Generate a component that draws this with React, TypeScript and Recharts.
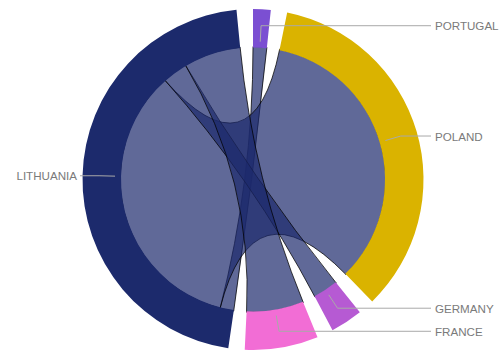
import { PieChart, Pie, Cell, Customized } from "recharts";

// nodes, clockwise from the top
const countries = ["PORTUGAL", "POLAND", "GERMANY", "FRANCE", "LITHUANIA"];
const colors = ["#7b4fd2", "#dab300", "#b65ad3", "#f26dd5", "#1c2a6c"];

// every link starts in Lithuania
const linkSource = "LITHUANIA";
const linkTargets = ["PORTUGAL", "POLAND", "GERMANY", "FRANCE"];
const linkValues = [6, 124, 11, 25];

const CX = 253;
const CY = 179.5;
const R_OUT = 170.5;
const R_IN = 132;
const R_RIB = 133; // ribbons tuck under the arcs so their stroke hides
const PAD = 5.56;
const RAD = Math.PI / 180;

const nodeData = countries.map((name) => ({
  name,
  value: linkTargets.reduce(
    (s, t, i) => s + (t === name || linkSource === name ? linkValues[i] : 0),
    0
  ),
}));

// same layout as the Pie: start at the top, clockwise, padding after each node
const total = nodeData.reduce((s, d) => s + d.value, 0);
const degPerUnit = (360 - PAD * nodeData.length) / total;
const nodeAngles: Record<string, [number, number]> = {};
let cursor = 0;
nodeData.forEach((d) => {
  nodeAngles[d.name] = [cursor, cursor + d.value * degPerUnit];
  cursor += d.value * degPerUnit + PAD;
});

const pt = (deg: number, r: number) =>
  `${CX + r * Math.sin(deg * RAD)},${CY - r * Math.cos(deg * RAD)}`;

function ribbonPath(a0: number, a1: number, b0: number, b1: number) {
  const r = R_RIB;
  return (
    `M${pt(a0, r)} A${r},${r} 0 ${a1 - a0 > 180 ? 1 : 0} 1 ${pt(a1, r)} ` +
    `Q${CX},${CY} ${pt(b0, r)} A${r},${r} 0 ${b1 - b0 > 180 ? 1 : 0} 1 ${pt(b1, r)} ` +
    `Q${CX},${CY} ${pt(a0, r)} Z`
  );
}

function Ribbons() {
  let offset = nodeAngles[linkSource][0];
  const srcColor = colors[countries.indexOf(linkSource)];
  return (
    <g>
      {linkTargets.map((t, i) => {
        const a0 = offset;
        const a1 = offset + linkValues[i] * degPerUnit;
        offset = a1;
        const [b0, b1] = nodeAngles[t];
        return (
          <path
            key={t}
            d={ribbonPath(a0, a1, b0, b1)}
            fill={srcColor}
            fillOpacity={0.7}
            stroke="#000"
            strokeOpacity={0.75}
            strokeWidth={1}
          />
        );
      })}
    </g>
  );
}

const renderLabel = (p: any) => {
  const { cx, cy, midAngle, name } = p;
  const a = -midAngle * RAD;
  const x1 = cx + 138 * Math.cos(a);
  const y1 = cy + 138 * Math.sin(a);
  const x2 = cx + 154 * Math.cos(a);
  const y2 = cy + 154 * Math.sin(a);
  const right = x2 > cx;
  const x3 = right ? 431 : 80;
  return (
    <g key={name}>
      <polyline
        points={`${x1},${y1} ${x2},${y2} ${x3},${y2}`}
        fill="none"
        stroke="#a9a9a9"
        strokeWidth={1}
      />
      <text
        x={right ? 435 : 77}
        y={y2}
        textAnchor={right ? "start" : "end"}
        dominantBaseline="central"
        fontFamily="'Liberation Sans', Arial, sans-serif"
        fontSize={11.6}
        fill="#7a7a7a"
      >
        {name}
      </text>
    </g>
  );
};

export default function App() {
  return (
    <div
      style={{
        position: "absolute",
        left: 0,
        top: 0,
        width: 500,
        height: 351,
        background: "#fff",
      }}
    >
      <PieChart width={500} height={351} margin={{ top: 0, right: 0, bottom: 0, left: 0 }}>
        <Customized component={Ribbons} />
        <Pie
          data={nodeData}
          dataKey="value"
          nameKey="name"
          cx={CX}
          cy={CY}
          innerRadius={R_IN}
          outerRadius={R_OUT}
          startAngle={90}
          endAngle={-270}
          paddingAngle={PAD}
          stroke="none"
          label={renderLabel}
          labelLine={false}
          isAnimationActive={false}
        >
          {nodeData.map((d, i) => (
            <Cell key={d.name} fill={colors[i]} />
          ))}
        </Pie>
      </PieChart>
    </div>
  );
}
